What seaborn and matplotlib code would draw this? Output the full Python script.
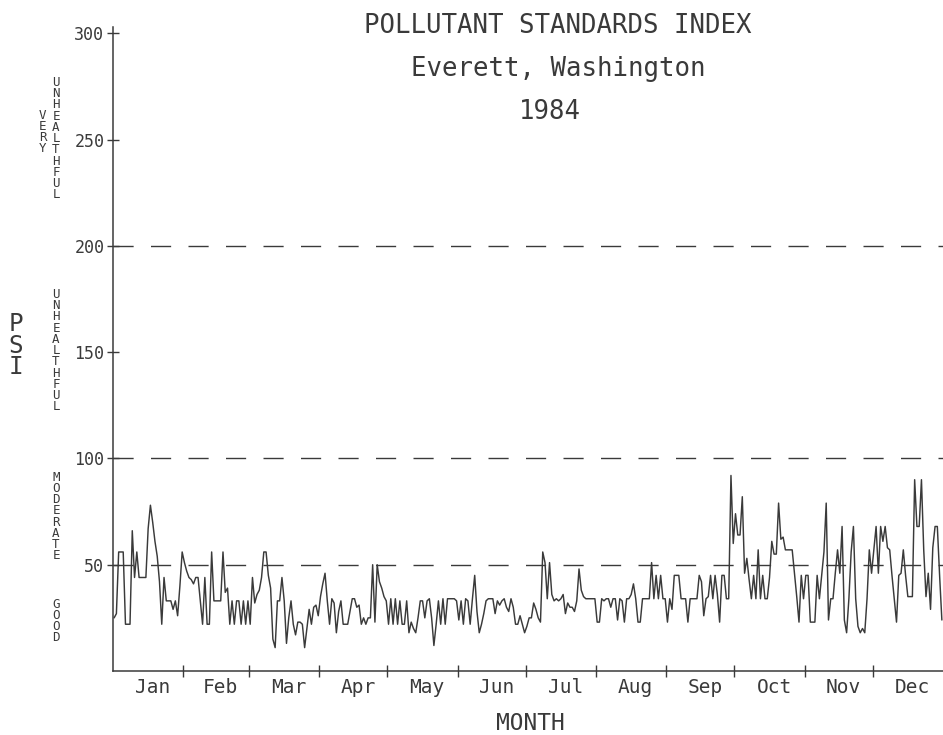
import numpy as np
import pandas as pd
import matplotlib
matplotlib.use("Agg")
import matplotlib.pyplot as plt
import seaborn as sns

# ---- data: daily Pollutant Standards Index, Everett WA, 1984 ----
months = ["Jan", "Feb", "Mar", "Apr", "May", "Jun",
          "Jul", "Aug", "Sep", "Oct", "Nov", "Dec"]
month_days = [31, 29, 31, 30, 31, 30, 31, 31, 30, 31, 30, 31]

psi_jan = [25, 27, 56, 56, 56, 22, 22, 22, 66, 44, 56, 44, 44, 44, 44, 67,
           78, 70, 61, 54, 42, 22, 44, 33, 33, 33, 29, 33, 26, 40, 56]
psi_feb = [51, 47, 44, 43, 41, 44, 44, 33, 22, 44, 22, 22, 56, 33, 33, 33,
           33, 56, 37, 39, 22, 33, 22, 33, 33, 22, 33, 22, 33]
psi_mar = [22, 44, 32, 36, 38, 44, 56, 56, 45, 39, 15, 11, 33, 33, 44, 33,
           13, 25, 33, 22, 17, 23, 23, 22, 11, 20, 29, 22, 30, 31, 26]
psi_apr = [35, 41, 46, 33, 22, 34, 32, 18, 28, 33, 22, 22, 22, 28, 34, 34,
           30, 31, 22, 25, 22, 25, 25, 50, 23, 50, 42, 39, 35, 33]
psi_may = [22, 34, 22, 34, 22, 33, 22, 22, 33, 18, 23, 20, 18, 25, 33, 33,
           25, 33, 34, 25, 12, 22, 33, 22, 34, 22, 34, 34, 34, 34, 33]
psi_jun = [24, 33, 22, 34, 33, 22, 34, 45, 28, 18, 22, 27, 33, 34, 34, 34,
           27, 33, 31, 33, 34, 30, 28, 34, 30, 22, 22, 26, 22, 18]
psi_jul = [21, 25, 25, 32, 29, 25, 23, 56, 51, 34, 51, 36, 33, 34, 33, 34,
           36, 27, 32, 30, 30, 28, 33, 48, 38, 35, 34, 34, 34, 34, 34]
psi_aug = [23, 23, 34, 33, 34, 34, 30, 34, 34, 24, 34, 33, 23, 34, 34, 36,
           41, 34, 23, 23, 34, 34, 34, 34, 51, 34, 45, 34, 45, 34, 34]
psi_sep = [23, 34, 29, 45, 45, 45, 34, 34, 34, 23, 34, 34, 34, 34, 45, 42,
           26, 34, 35, 45, 34, 45, 36, 23, 45, 45, 34, 34, 92, 60]
psi_oct = [74, 64, 64, 82, 46, 53, 43, 34, 45, 34, 57, 34, 45, 34, 34, 44,
           61, 55, 55, 79, 62, 63, 57, 57, 57, 57, 46, 35, 23, 45, 34]
psi_nov = [45, 45, 23, 23, 23, 45, 34, 45, 56, 79, 24, 34, 34, 46, 57, 46,
           68, 24, 18, 34, 56, 68, 34, 21, 18, 20, 18, 34, 57, 46]
psi_dec = [57, 68, 46, 68, 61, 68, 58, 57, 45, 34, 23, 45, 46, 57, 45, 35,
           35, 35, 90, 68, 68, 90, 57, 35, 46, 29, 58, 68, 68, 45, 24]

psi_ticks = [50, 100, 150, 200, 250, 300]
category_breaks = [50, 100, 200]
category_words = ["VERY", "UNHEALTHFUL", "UNHEALTHFUL", "MODERATE", "GOOD"]
title_lines = ["POLLUTANT STANDARDS INDEX", "Everett, Washington", "1984"]

# ---- assemble the daily series ----
psi = (psi_jan + psi_feb + psi_mar + psi_apr + psi_may + psi_jun +
       psi_jul + psi_aug + psi_sep + psi_oct + psi_nov + psi_dec)
df = pd.DataFrame({"day": np.arange(len(psi)) + 0.5, "psi": psi})

edges = np.cumsum([0] + month_days)
month_mid = (edges[:-1] + edges[1:]) / 2 + 2
n_days = int(edges[-1])

# ---- style ----
sns.set_style("ticks")
plt.rcParams["font.family"] = ["DejaVu Sans Mono", "DejaVu Sans"]
INK = "#3a3a3a"

W, H = 943, 735
fig = plt.figure(figsize=(W / 100, H / 100), dpi=100)
ax = fig.add_axes([113 / W, 1 - 671 / H, (W - 113) / W, (671 - 27) / H])

for level in category_breaks:
    ax.axhline(level, color=INK, lw=1.0, dashes=(14.5, 12.5), zorder=1)

sns.lineplot(data=df, x="day", y="psi", ax=ax, color=INK, lw=1.05,
             zorder=2, legend=False)

ax.set_xlim(0, n_days)
ax.set_ylim(0, 303)
ax.set_xlabel("")
ax.set_ylabel("")

for side in ("top", "right"):
    ax.spines[side].set_visible(False)
for side in ("left", "bottom"):
    ax.spines[side].set_color(INK)
    ax.spines[side].set_linewidth(1.1)

ax.set_yticks(psi_ticks)
ax.set_yticklabels([str(v) for v in psi_ticks])
ax.tick_params(axis="y", left=True, direction="inout", length=8.6,
               width=1.0, color=INK, labelsize=12, labelcolor=INK, pad=2)

ax.set_xticks(month_mid)
ax.set_xticklabels(months)
ax.set_xticks(edges[1:-1], minor=True)
ax.tick_params(axis="x", which="major", bottom=True, length=0, pad=5,
               labelsize=14, labelcolor=INK)
ax.tick_params(axis="x", which="minor", bottom=True, direction="inout",
               length=8, width=1.0, color=INK)

renderer = fig.canvas.get_renderer()


def put(text, x, y_center, size, **kw):
    """Place one line of text with its capitals centred on y_center (px)."""
    base = y_center + 0.3645 * size * 100 / 72
    fig.text(x / W, 1 - base / H, text, ha="center", va="baseline",
             fontsize=size, color=INK, **kw)


def line_metrics(size):
    """Height of a single line and the baseline step at linespacing 1."""
    one = fig.text(0, 0, "A", fontsize=size)
    two = fig.text(0, 0, "A\nA", fontsize=size, linespacing=1.0)
    h1 = one.get_window_extent(renderer).height
    h2 = two.get_window_extent(renderer).height
    one.remove()
    two.remove()
    return h1, h2 - h1


def stacked(word, x, y_first, pitch, size):
    """Write a word as a vertical column of letters, one per line."""
    em = size * 100 / 72
    h1, step = line_metrics(size)
    spacing = pitch / step
    mean_cap = y_first + (len(word) - 1) * pitch / 2
    y_mid = mean_cap + 0.3645 * em + (h1 - 2 * step) / 2 + 4
    fig.text(x / W, 1 - y_mid / H, "\n".join(word), ha="center",
             va="center", ma="center", fontsize=size, color=INK,
             linespacing=spacing)


# titles
put(title_lines[0], 558, 24, 18.5)
put(title_lines[1], 558, 67, 18.5)
put(title_lines[2], 550, 110, 18.5)

# axis titles
put("MONTH", 530, 722, 16.5)
stacked("PSI", 16, 324, 21, 17.5)

# category bands along the PSI axis
stacked(category_words[0], 42.5, 114, 10.7, 9)
stacked(category_words[1], 56, 83, 10.7, 9)
stacked(category_words[2], 56, 295, 10.7, 9)
stacked(category_words[3], 56, 477, 10.7, 9)
stacked(category_words[4], 56, 603, 10.7, 9)

fig.savefig("out.png", dpi=100, facecolor="white")
